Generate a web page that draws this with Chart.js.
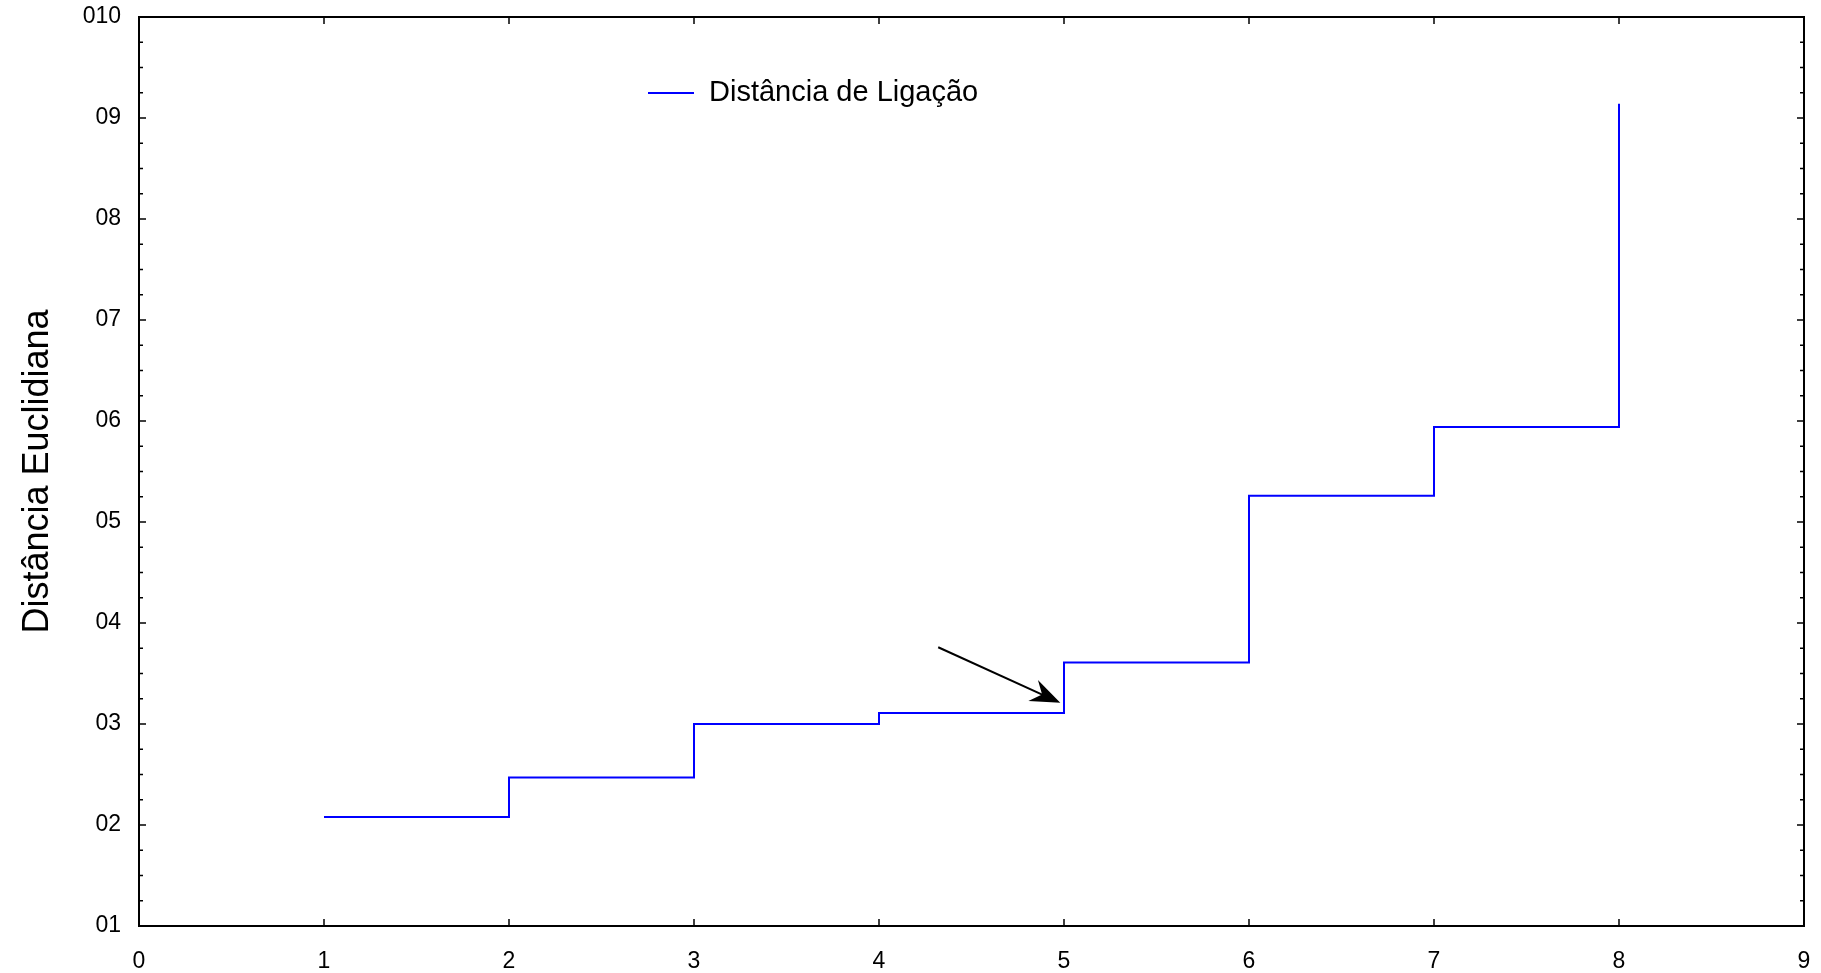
<!DOCTYPE html>
<html lang="pt">
<head>
<meta charset="UTF-8">
<title>Distância de Ligação</title>
<script src="https://cdn.jsdelivr.net/npm/chart.js"></script>
<style>
  html, body { margin: 0; padding: 0; background: #ffffff; }
</style>
</head>
<body>
<canvas id="chart" width="1821" height="973"></canvas>
<script>
// data
const steps = [1, 2, 3, 4, 5, 6, 7, 8];
const distances = [2.08, 2.47, 3.00, 3.11, 3.61, 5.26, 5.94, 9.14];
const seriesLabel = "Distância de Ligação";
const yTitle = "Distância Euclidiana";
const xRange = [0, 9];
const yRange = [1, 10];
// annotation arrow (data coords): tail -> head
const arrowTail = [4.32, 3.76];
const arrowHead = [4.98, 3.21];

const FONT = "'Liberation Sans', Arial, Helvetica, sans-serif";
const lineColor = "#0000ff";

// gnuplot-like frame: box, inward ticks (mirrored), legend, arrow
const framePlugin = {
  id: "frame",
  afterDatasetsDraw(chart) {
    const ctx = chart.ctx;
    const a = chart.chartArea;
    const xs = chart.scales.x, ys = chart.scales.y;
    ctx.save();
    ctx.strokeStyle = "#000";
    ctx.lineWidth = 2;
    ctx.strokeRect(a.left, a.top, a.right - a.left, a.bottom - a.top);

    ctx.lineWidth = 1.5;
    ctx.beginPath();
    for (let v = xRange[0]; v <= xRange[1]; v++) {
      const px = xs.getPixelForValue(v);
      ctx.moveTo(px, a.bottom); ctx.lineTo(px, a.bottom - 7);
      ctx.moveTo(px, a.top); ctx.lineTo(px, a.top + 7);
    }
    for (let v = yRange[0]; v <= yRange[1] + 1e-9; v += 0.25) {
      const py = ys.getPixelForValue(v);
      const len = Math.abs(v - Math.round(v)) < 1e-9 ? 7 : 4;
      ctx.moveTo(a.left, py); ctx.lineTo(a.left + len, py);
      ctx.moveTo(a.right, py); ctx.lineTo(a.right - len, py);
    }
    ctx.stroke();

    // legend
    const ly = a.top + 76;
    const lx = a.left + 509;
    ctx.strokeStyle = lineColor;
    ctx.lineWidth = 2;
    ctx.beginPath();
    ctx.moveTo(lx, ly); ctx.lineTo(lx + 46, ly);
    ctx.stroke();
    ctx.fillStyle = "#000";
    ctx.font = "29px " + FONT;
    ctx.textBaseline = "middle";
    ctx.textAlign = "left";
    ctx.fillText(seriesLabel, lx + 61, ly);

    // arrow
    const x0 = xs.getPixelForValue(arrowTail[0]), y0 = ys.getPixelForValue(arrowTail[1]);
    const x1 = xs.getPixelForValue(arrowHead[0]), y1 = ys.getPixelForValue(arrowHead[1]);
    const ang = Math.atan2(y1 - y0, x1 - x0);
    const hl = 32, spread = 0.37;
    ctx.strokeStyle = "#000";
    ctx.lineWidth = 2;
    ctx.beginPath();
    ctx.moveTo(x0, y0);
    ctx.lineTo(x1 - Math.cos(ang) * 15, y1 - Math.sin(ang) * 15);
    ctx.stroke();
    ctx.beginPath();
    ctx.moveTo(x1, y1);
    ctx.lineTo(x1 - hl * Math.cos(ang - spread), y1 - hl * Math.sin(ang - spread));
    ctx.lineTo(x1 - 20 * Math.cos(ang), y1 - 20 * Math.sin(ang));
    ctx.lineTo(x1 - hl * Math.cos(ang + spread), y1 - hl * Math.sin(ang + spread));
    ctx.closePath();
    ctx.fillStyle = "#000";
    ctx.fill();
    ctx.restore();
  }
};

new Chart(document.getElementById("chart"), {
  type: "line",
  data: {
    datasets: [{
      label: seriesLabel,
      data: steps.map((s, i) => ({ x: s, y: distances[i] })),
      borderColor: lineColor,
      borderWidth: 2,
      stepped: "before",
      pointRadius: 0,
      fill: false
    }]
  },
  options: {
    responsive: false,
    animation: false,
    layout: { padding: { top: 17, right: 17, left: 0, bottom: 0 } },
    plugins: { legend: { display: false }, tooltip: { enabled: false } },
    scales: {
      x: {
        type: "linear",
        min: xRange[0], max: xRange[1],
        grid: { display: false, drawTicks: false },
        border: { display: false },
        ticks: { stepSize: 1, color: "#000", padding: 22, font: { family: FONT, size: 23 } },
        afterFit(scale) {
          scale.height = 47;
          scale.paddingLeft = 0; scale.paddingRight = 0;
        }
      },
      y: {
        type: "linear",
        min: yRange[0], max: yRange[1],
        grid: { display: false, drawTicks: false },
        border: { display: false },
        ticks: {
          stepSize: 1, color: "#000", padding: 18,
          font: { family: FONT, size: 23 },
          callback: (v) => "0" + v
        },
        title: {
          display: true, text: yTitle, color: "#000",
          font: { family: FONT, size: 36 },
          padding: { top: 16, bottom: 0 }
        },
        afterFit(scale) {
          scale.width = 139;
          scale.paddingTop = 0; scale.paddingBottom = 0;
        }
      }
    }
  },
  plugins: [framePlugin]
});
</script>
</body>
</html>
